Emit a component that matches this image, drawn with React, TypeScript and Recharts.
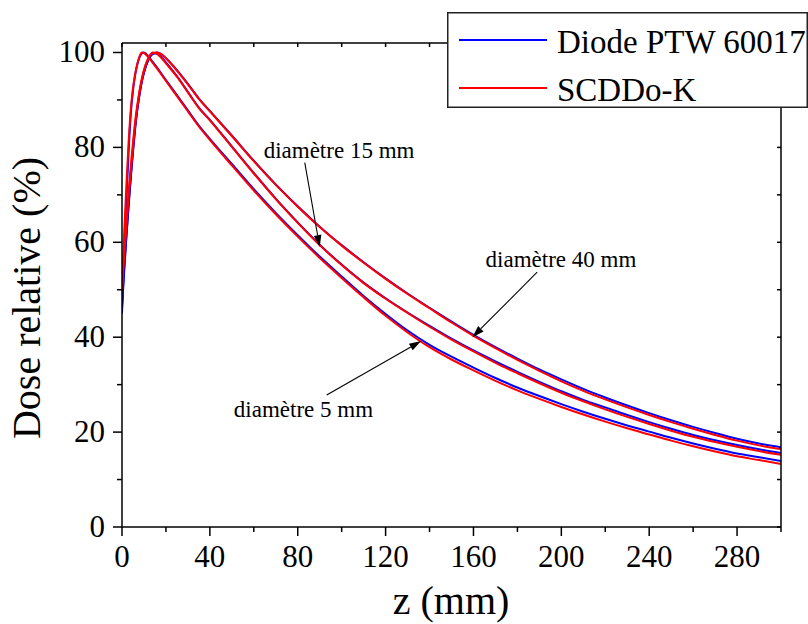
import React from 'react';
import { LineChart, Line, XAxis, YAxis, Legend, ReferenceLine, ReferenceDot } from 'recharts';

const FONT = "'Liberation Serif', 'DejaVu Serif', serif";

// depth z (mm)
const zMm = [0, 1, 2, 3, 4, 5, 6, 7, 8, 9, 10, 12, 14, 16, 18, 20, 25, 30, 35, 40,
  50, 60, 70, 80, 90, 100, 110, 120, 130, 140, 150, 160, 170, 180, 190, 200,
  210, 220, 230, 240, 250, 260, 270, 280, 290, 300];

// diamètre 5 mm
const diode5 = [45, 58, 69, 79, 87, 92, 95.3, 97.5, 99, 99.8, 100, 99.2, 98, 96.8, 95.5, 94.2, 91, 87.8, 84.6, 81.8,
  76.5, 71.2, 66.2, 61.5, 57, 52.8, 48.7, 44.9, 41.4, 38.4, 35.9, 33.6, 31.4, 29.4, 27.6, 25.9,
  24.3, 22.8, 21.4, 20.1, 18.8, 17.6, 16.5, 15.5, 14.7, 13.9];
const scd5 = [50, 62, 72, 81, 88, 92.5, 95.5, 97.7, 99.2, 100, 99.9, 99, 97.8, 96.6, 95.3, 94, 90.8, 87.6, 84.4, 81.6,
  76.2, 70.9, 65.9, 61.2, 56.7, 52.5, 48.4, 44.5, 41, 37.9, 35.3, 33, 30.8, 28.8, 27, 25.3,
  23.7, 22.2, 20.8, 19.5, 18.2, 17, 15.9, 14.9, 14.1, 13.3];

// diamètre 15 mm
const diode15 = [46, 54, 61, 67.5, 73.5, 79, 84, 88, 91.2, 93.8, 95.8, 98.5, 99.8, 99.8, 99, 97.9, 95, 91.7, 88.4, 85.8,
  80.2, 74.6, 69.2, 64.2, 59.5, 55.3, 51.5, 48.2, 45.2, 42.4, 39.7, 37.2, 34.9, 32.7, 30.6, 28.6,
  26.8, 25.2, 23.6, 22.1, 20.7, 19.4, 18.3, 17.3, 16.4, 15.6];
const scd15 = [50, 57, 63.5, 69.5, 75, 80, 84.8, 88.6, 91.7, 94.2, 96.2, 98.8, 100, 99.7, 98.8, 97.7, 94.9, 91.6, 88.3, 85.7,
  80.1, 74.5, 69.1, 64.1, 59.4, 55.2, 51.4, 48.1, 45.1, 42.2, 39.5, 37, 34.6, 32.4, 30.3, 28.3,
  26.5, 24.8, 23.2, 21.7, 20.3, 19, 17.9, 16.9, 16, 15.2];

// diamètre 40 mm
const diode40 = [47, 54.5, 61.5, 68, 74, 79.5, 84.3, 88.2, 91.3, 93.8, 95.8, 98.4, 99.7, 100, 99.6, 98.8, 96.3, 93.4, 90.3, 87.7,
  82.5, 77.2, 72.2, 67.6, 63.3, 59.4, 55.8, 52.4, 49.2, 46.2, 43.3, 40.5, 37.9, 35.5, 33.2, 31.1,
  29.1, 27.3, 25.6, 24, 22.5, 21.1, 19.8, 18.6, 17.6, 16.8];
const scd40 = [51, 58, 64.5, 70.5, 76, 81, 85.5, 89, 92, 94.4, 96.3, 98.8, 99.9, 100, 99.6, 98.8, 96.2, 93.3, 90.2, 87.6,
  82.4, 77.1, 72.1, 67.5, 63.2, 59.3, 55.7, 52.3, 49.1, 46.1, 43.1, 40.3, 37.7, 35.2, 32.9, 30.7,
  28.7, 26.9, 25.2, 23.6, 22.1, 20.7, 19.4, 18.2, 17.2, 16.4];

const seriesNames = ['Diode PTW 60017', 'SCDDo-K'];
const seriesColors = ['#0000ff', '#ff0000'];

const xTicks = [0, 20, 40, 60, 80, 100, 120, 140, 160, 180, 200, 220, 240, 260, 280, 300];
const xLabelTicks = [0, 40, 80, 120, 160, 200, 240, 280];
const yTicks = [0, 10, 20, 30, 40, 50, 60, 70, 80, 90, 100];
const yLabelTicks = [0, 20, 40, 60, 80, 100];

const xTitle = 'z (mm)';
const yTitle = 'Dose relative (%)';

const annotations = [
  { text: 'diamètre 15 mm', textZ: 64.5, textD: 77.7, fromZ: 83.2, fromD: 76.8, toZ: 90, toD: 59 },
  { text: 'diamètre 5 mm', textZ: 50.9, textD: 23.2, fromZ: 93.2, fromD: 27.8, toZ: 136.2, toD: 39.2 },
  { text: 'diamètre 40 mm', textZ: 165.5, textD: 54.7, fromZ: 189, fromD: 53.7, toZ: 159.5, toD: 40 },
];

const data = zMm.map((z, i) => ({
  z,
  d5: diode5[i], s5: scd5[i],
  d15: diode15[i], s15: scd15[i],
  d40: diode40[i], s40: scd40[i],
}));

const BottomTick = (props: any) => {
  const { x, y, payload } = props;
  const v = payload.value;
  const major = xLabelTicks.includes(v);
  return (
    <g>
      <line x1={x} x2={x} y1={y} y2={y + (major ? 9 : 5)} stroke="#000" strokeWidth={1.5} />
      {major && (
        <text x={x} y={y + 40} textAnchor="middle" fontSize={31} fontFamily={FONT} fill="#000">{v}</text>
      )}
    </g>
  );
};

const LeftTick = (props: any) => {
  const { x, y, payload } = props;
  const v = payload.value;
  const major = yLabelTicks.includes(v);
  return (
    <g>
      <line x1={x} x2={x - (major ? 9 : 5)} y1={y} y2={y} stroke="#000" strokeWidth={1.5} />
      {major && (
        <text x={x - 17} y={y + 10} textAnchor="end" fontSize={31} fontFamily={FONT} fill="#000">{v}</text>
      )}
    </g>
  );
};

const TopTick = (props: any) => {
  const { x, y } = props;
  return <line x1={x} x2={x} y1={y} y2={y + 4} stroke="#000" strokeWidth={1.5} />;
};

const RightTick = (props: any) => {
  const { x, y } = props;
  return <line x1={x} x2={x - 4} y1={y} y2={y} stroke="#000" strokeWidth={1.5} />;
};

const ArrowShape = (props: any) => {
  const { x1, y1, x2, y2 } = props;
  const dx = x2 - x1;
  const dy = y2 - y1;
  const len = Math.sqrt(dx * dx + dy * dy) || 1;
  const ux = dx / len;
  const uy = dy / len;
  const hl = 12;
  const hw = 3.8;
  const bx = x2 - ux * hl;
  const by = y2 - uy * hl;
  const pts = `${x2},${y2} ${bx - uy * hw},${by + ux * hw} ${bx + uy * hw},${by - ux * hw}`;
  return (
    <g>
      <line x1={x1} y1={y1} x2={bx} y2={by} stroke="#000" strokeWidth={1.1} />
      <polygon points={pts} fill="#000" />
    </g>
  );
};

const LegendBox = () => (
  <svg width={361} height={96} style={{ display: 'block' }}>
    <rect x={0.75} y={0.75} width={359.5} height={94.5} fill="#fff" stroke="#222" strokeWidth={1.5} />
    {seriesNames.map((n, i) => (
      <g key={n}>
        <line x1={12} x2={100} y1={28 + 48 * i} y2={28 + 48 * i} stroke={seriesColors[i]} strokeWidth={2} />
        <text x={110} y={41 + 48 * i} fontSize={33} fontFamily={FONT} fill="#000">{n}</text>
      </g>
    ))}
  </svg>
);

const seriesKeys = [
  ['d5', 's5'],
  ['d15', 's15'],
  ['d40', 's40'],
];

export default function App() {
  return (
    <div style={{ position: 'absolute', left: 0, top: 0 }}>
      <LineChart width={808} height={624} data={data} margin={{ top: 42, right: 26, bottom: 0, left: 0 }}>
        <XAxis
          dataKey="z"
          type="number"
          domain={[0, 300]}
          ticks={xTicks}
          interval={0}
          height={97}
          tickSize={0}
          tickMargin={0}
          tickLine={false}
          tick={BottomTick}
          axisLine={{ stroke: '#000', strokeWidth: 1.5 }}
          allowDataOverflow
          label={() => (
            <text x={451} y={614} textAnchor="middle" fontSize={40} fontFamily={FONT} fill="#000">{xTitle}</text>
          )}
        />
        <XAxis
          xAxisId="top"
          dataKey="z"
          orientation="top"
          type="number"
          domain={[0, 300]}
          ticks={xTicks}
          interval={0}
          height={1}
          tickSize={0}
          tickMargin={0}
          tickLine={false}
          tick={TopTick}
          axisLine={{ stroke: '#000', strokeWidth: 1.5 }}
          allowDataOverflow
        />
        <YAxis
          type="number"
          domain={[0, 102]}
          ticks={yTicks}
          interval={0}
          width={122}
          tickSize={0}
          tickMargin={0}
          tickLine={false}
          tick={LeftTick}
          axisLine={{ stroke: '#000', strokeWidth: 1.5 }}
          allowDataOverflow
          label={() => (
            <text x={40} y={298} transform="rotate(-90, 40, 298)" textAnchor="middle" fontSize={40} fontFamily={FONT} fill="#000">{yTitle}</text>
          )}
        />
        <YAxis
          yAxisId="right"
          orientation="right"
          type="number"
          domain={[0, 102]}
          ticks={yTicks}
          interval={0}
          width={1}
          tickSize={0}
          tickMargin={0}
          tickLine={false}
          tick={RightTick}
          axisLine={{ stroke: '#000', strokeWidth: 1.5 }}
          allowDataOverflow
        />
        {seriesKeys.map(([dk]) => (
          <Line key={dk} type="monotone" dataKey={dk} stroke={seriesColors[0]} strokeWidth={2} dot={false} isAnimationActive={false} legendType="none" />
        ))}
        {seriesKeys.map(([, sk]) => (
          <Line key={sk} xAxisId="top" yAxisId="right" type="monotone" dataKey={sk} stroke={seriesColors[1]} strokeWidth={2} dot={false} isAnimationActive={false} legendType="none" />
        ))}
        {annotations.map((a) => (
          <ReferenceLine
            key={a.text + 'l'}
            segment={[{ x: a.fromZ, y: a.fromD }, { x: a.toZ, y: a.toD }]}
            shape={ArrowShape}
            ifOverflow="visible"
          />
        ))}
        {annotations.map((a) => (
          <ReferenceDot
            key={a.text + 't'}
            x={a.textZ}
            y={a.textD}
            r={0}
            ifOverflow="visible"
            shape={(p: any) => (
              <text x={p.cx} y={p.cy} fontSize={23} fontFamily={FONT} fill="#000">{a.text}</text>
            )}
          />
        ))}
        <Legend
          layout="vertical"
          align="center"
          verticalAlign="middle"
          width={361}
          height={96}
          wrapperStyle={{ position: 'absolute', left: 447, top: 12, width: 361, height: 96, lineHeight: 0 }}
          content={() => <LegendBox />}
        />
      </LineChart>
    </div>
  );
}
